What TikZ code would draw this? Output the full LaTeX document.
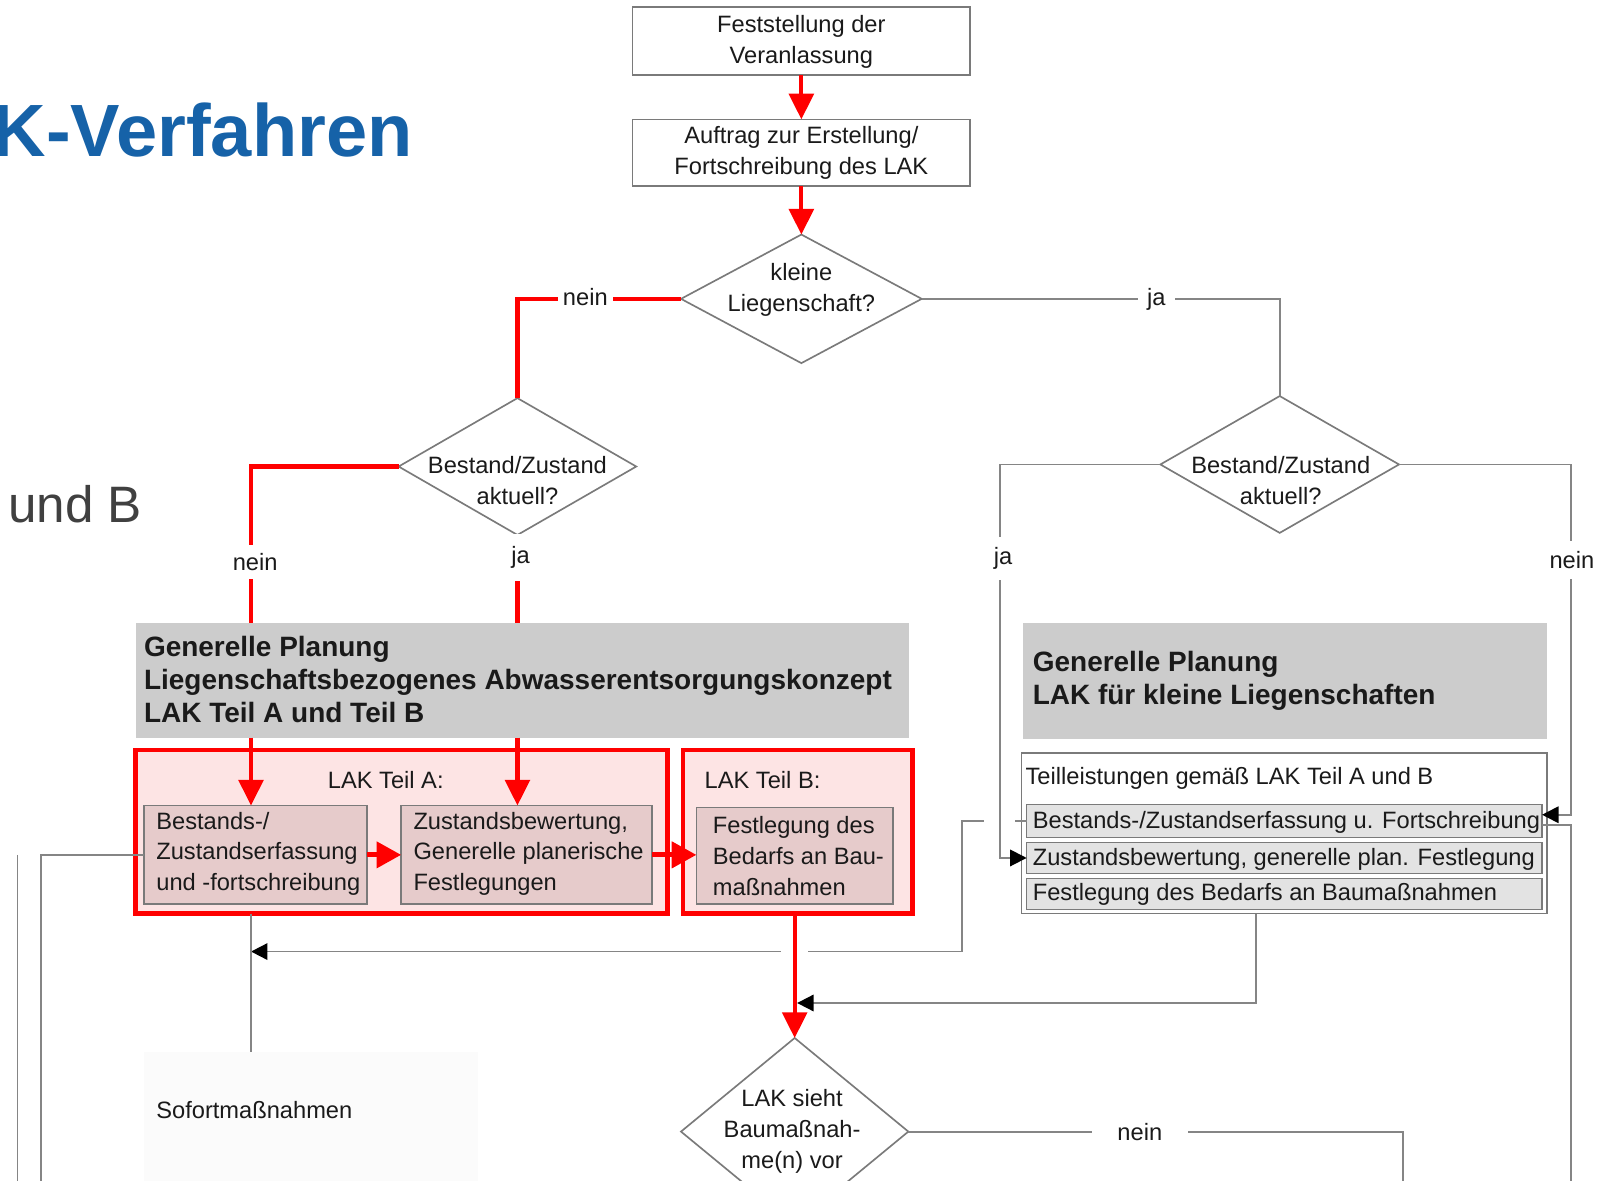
\documentclass[tikz,border=0pt]{standalone}
\usepackage{fontspec}
\setmainfont{Liberation Sans}
\usetikzlibrary{shapes.geometric,arrows.meta,calc}

\definecolor{ink}{HTML}{1A1A1A}
\definecolor{titleblue}{HTML}{1662A8}
\definecolor{subgray}{HTML}{404040}
\definecolor{linegray}{HTML}{858585}
\definecolor{bordergray}{HTML}{7A7A7A}
\definecolor{planfill}{HTML}{CCCCCC}
\definecolor{partfill}{HTML}{FDE4E4}
\definecolor{stepfill}{HTML}{E6CBCB}
\definecolor{itemfill}{HTML}{E3E3E3}
\definecolor{softfill}{HTML}{FBFBFB}
\definecolor{flowred}{HTML}{FF0000}

\begin{document}
\begin{tikzpicture}[x=0.5pt,y=-0.5pt,
  sz/.style 2 args={minimum width=#1*0.5pt, minimum height=#2*0.5pt},
  base/.style={inner sep=0pt, outer sep=0pt},
  txt/.style={base, text=ink, font=\fontsize{11.5}{15}\selectfont, align=center},
  ltxt/.style={txt, align=left, anchor=west},
  btxt/.style={base, text=ink, font=\fontsize{13.6}{16}\selectfont\bfseries, align=left, anchor=west},
  procbox/.style={base, draw=bordergray, line width=0.8pt, fill=white},
  decision/.style={base, diamond, draw=bordergray, line width=0.8pt, fill=white},
  planbox/.style={base, fill=planfill},
  partframe/.style={base, draw=flowred, line width=2.3pt, fill=partfill},
  stepbox/.style={base, draw=bordergray, line width=0.8pt, fill=stepfill},
  itembox/.style={base, draw=bordergray, line width=0.8pt, fill=itemfill},
  listbox/.style={base, draw=bordergray, line width=0.8pt, fill=white},
  redline/.style={draw=flowred, line width=2pt},
  redarrow/.style={redline, -{Triangle[length=12.5pt,width=12pt]}},
  bigarrow/.style={draw=flowred, line width=2.5pt, -{Triangle[length=12pt,width=12.5pt]}},
  grayline/.style={draw=linegray, line width=0.9pt},
  grayarrow/.style={grayline, -{Triangle[length=8pt,width=8pt,color=black]}},
  lbl/.style={txt, fill=white, inner ysep=2.5pt},
]
% page and background
\useasboundingbox (0,0) rectangle (1568,1148);
\fill[white] (0,0) rectangle (1568,1148);
\clip (0,0) rectangle (1568,1148);

% headings at the left edge
\node[base, anchor=base west, text=titleblue, font=\fontsize{36}{40}\selectfont\bfseries] (title) at (-7,152) {K-Verfahren};
\node[base, anchor=base west, text=subgray, font=\fontsize{24.9}{28}\selectfont] (subtitle) at (8,508) {und B};

% top of the flow
\node[procbox, sz={328}{66}] (n1) at (779,40) {};
\node[txt] (n1t) at (779,41) {Feststellung der\\Veranlassung};
\node[procbox, sz={328}{65}] (n2) at (779,148.5) {};
\node[txt] (n2t) at (779,149) {Auftrag zur Erstellung/\\Fortschreibung des LAK};

\node[decision, sz={234}{125}] (d1) at (779,290.5) {};
\node[txt] (d1t) at (779,282) {kleine\\Liegenschaft?};
\node[decision, sz={231}{133}] (d2) at (503,453.5) {};
\node[txt] (d2t) at (503,467) {Bestand/Zustand\\aktuell?};
\node[decision, sz={232}{133}] (d3) at (1244,451.5) {};
\node[txt] (d3t) at (1245,467) {Bestand/Zustand\\aktuell?};

% general planning, full procedure
\node[planbox, sz={752}{111}] (gp1) at (508,661.5) {};
\node[btxt] (gp1t) at (140,660.5) {Generelle Planung\\Liegenschaftsbezogenes Abwasserentsorgungskonzept\\LAK Teil A und Teil B};

\node[partframe, sz={517}{159}] (fa) at (390.5,808.5) {};
\node[txt] (fat) at (375,758) {LAK Teil A:};
\node[stepbox, sz={217}{96}] (a1) at (248.5,831) {};
\node[ltxt] (a1t) at (152,830) {Bestands-/\\Zustandserfassung\\und -fortschreibung};
\node[stepbox, sz={244}{96}] (a2) at (512,831) {};
\node[ltxt] (a2t) at (402,830) {Zustandsbewertung,\\Generelle planerische\\Festlegungen};

\node[partframe, sz={223}{159}] (fb) at (775.5,808.5) {};
\node[ltxt] (fbt) at (685,758) {LAK Teil B:};
\node[stepbox, sz={191}{94}] (b1) at (772.5,832) {};
\node[ltxt] (b1t) at (693,832) {Festlegung des\\Bedarfs an Bau-\\maßnahmen};

% general planning, small properties
\node[planbox, sz={510}{112}] (gp2) at (1249,662) {};
\node[btxt] (gp2t) at (1004,661.5) {Generelle Planung\\LAK für kleine Liegenschaften};

\node[listbox, sz={511}{156}] (t) at (1248.5,810) {};
\node[ltxt] (tt) at (997,757) {Teilleistungen gemäß LAK Teil A und B};
\node[itembox, sz={501}{32}] (s1) at (1248.5,798) {};
\node[ltxt] (s1t) at (1004,799) {Bestands-/Zustandserfassung u. Fortschreibung};
\node[itembox, sz={501}{30}] (s2) at (1248.5,834) {};
\node[ltxt] (s2t) at (1004,835) {Zustandsbewertung, generelle plan. Festlegung};
\node[itembox, sz={501}{30}] (s3) at (1248.5,869) {};
\node[ltxt] (s3t) at (1004,869) {Festlegung des Bedarfs an Baumaßnahmen};

% lower part
\node[base, fill=softfill, sz={325}{127}] (sofort) at (302.5,1086.5) {};
\node[ltxt] (sofortt) at (152,1079) {Sofortmaßnahmen};
\node[decision, sz={221}{182}] (d4) at (772.5,1100) {};
\node[txt] (d4t) at (770,1100) {LAK sieht\\Baumaßnah-\\me(n) vor};

% routing channels
\coordinate (xA) at (244,0);
\coordinate (xJ) at (972,0);
\coordinate (xN) at (1527,0);
\coordinate (xL) at (935,0);
\coordinate (xT) at (1221,0);
\coordinate (xM) at (1364,0);
\coordinate (xO) at (40,0);
\coordinate (xE) at (17,0);
\coordinate (yF) at (0,925);
\coordinate (yG) at (0,975);
\coordinate (yB) at (0,1170);
\coordinate (s1in) at ([yshift=3pt]s1.east);
\coordinate (s1out) at ([yshift=-2pt]s1.east);
\coordinate (g1) at (xJ |- s1.west);
\coordinate (g2) at (d4.north |- yF);

% feedback line with crossing gaps
\draw[grayarrow] (s1.west) -| (xL |- yF) -- (xA |- yF);
\draw[white, line width=3pt] ([xshift=-7.5pt]g1) -- ([xshift=7.5pt]g1);
\draw[white, line width=3pt] ([xshift=-6.5pt]g2) -- ([xshift=6.5pt]g2);

% gray connectors
\draw[grayline] (d1.east) -| (d3.north);
\draw[grayarrow] (d3.west) -| (xJ |- s2.west) -- (s2.west);
\draw[grayarrow] (d3.east) -| (xN |- s1in) -- (s1in);
\draw[grayline] (s1out) -- (xN |- s1out) -- (xN |- yB);
\draw[grayline] (xA |- fa.south) -- (xA |- sofort.north);
\draw[grayarrow, shorten >=1.2pt] (xT |- t.south) |- (d4.north |- yG);
\draw[grayline] (d4.east) -| (xM |- yB);
\draw[grayline] (a1.west) -| (xO |- yB);
\draw[grayline] (xE |- a1.west) -- (xE |- yB);

% red main path
\draw[redarrow] (n1) -- (n2);
\draw[redarrow] (n2) -- (d1);
\draw[redline] (d1.west) -| (d2.north);
\draw[redline] (d2.west) -| (xA |- gp1.north);
\draw[redline] (d2.south) -- (d2.south |- gp1.north);
\draw[redarrow] (xA |- gp1.south) -- (xA |- a1.north);
\draw[redarrow] (d2.south |- gp1.south) -- (d2.south |- a2.north);
\draw[bigarrow] (a1.east) -- (a2.west);
\draw[bigarrow] (a2.east) -- (a2.east -| b1.west);
\draw[redarrow] (d4.north |- fb.south) -- (d4.north);

% branch labels
\node[lbl, inner xsep=2.5pt] (l1) at (569,289) {nein};
\node[lbl, inner xsep=4.5pt] (l2) at (1124,291) {ja};
\node[lbl, inner xsep=3pt, inner ysep=4pt] (l3) at (248,546) {nein};
\node[lbl, inner xsep=3pt, inner ysep=6pt] (l4) at (506,542) {ja};
\node[lbl, inner xsep=17pt, inner ysep=5pt] (l5) at (975,543) {ja};
\node[lbl, inner xsep=9pt, inner ysep=5pt] (l6) at (1528,544) {nein};
\node[lbl, inner xsep=12.5pt] (l7) at (1108,1100) {nein};
\end{tikzpicture}
\end{document}
